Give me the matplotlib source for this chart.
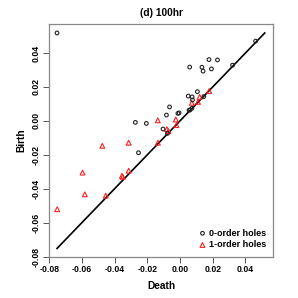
# Persistence diagram (d) 100hr - birth vs death of 0-order and 1-order holes
import numpy as np
import matplotlib
matplotlib.use('Agg')
import matplotlib.pyplot as plt

plt.rcParams['font.family'] = ['Liberation Sans', 'DejaVu Sans']

# 0-order holes (death, birth)
death0 = [-0.0752, 0.0462, 0.0321, 0.0059, 0.0177, 0.0229, 0.0134, 0.0141, 0.0192,
          0.0106, 0.0050, 0.0074, 0.0076, 0.0145, -0.0064, -0.0083, -0.0013, -0.0006,
          0.0055, 0.0061, 0.0073, -0.0273, -0.0206, -0.0104, -0.0077, -0.0254]
birth0 = [0.0518, 0.0470, 0.0328, 0.0317, 0.0361, 0.0359, 0.0316, 0.0293, 0.0306,
          0.0172, 0.0146, 0.0141, 0.0123, 0.0143, 0.0082, 0.0034, 0.0044, 0.0047,
          0.0063, 0.0064, 0.0074, -0.0009, -0.0015, -0.0048, -0.0074, -0.0188]

# 1-order holes (death, birth)
death1 = [0.0178, 0.0120, 0.0110, 0.0072, -0.0026, -0.0136, -0.0080, -0.0071, -0.0022,
          -0.0135, -0.0475, -0.0314, -0.0596, -0.0582, -0.0751, -0.0454, -0.0355,
          -0.0350, -0.0314]
birth1 = [0.0176, 0.0141, 0.0112, 0.0106, 0.0008, 0.0003, -0.0049, -0.0061, -0.0025,
          -0.0129, -0.0147, -0.0129, -0.0305, -0.0433, -0.0521, -0.0441, -0.0324,
          -0.0330, -0.0294]

ticks = [-0.08, -0.06, -0.04, -0.02, 0.00, 0.02, 0.04]
tick_labels = ['-0.08', '-0.06', '-0.04', '-0.02', '0.00', '0.02', '0.04']

fig = plt.figure(figsize=(2.98, 2.98), dpi=100)
ax = fig.add_axes([0.165, 0.139, 0.752, 0.78])

# Diagonal from the smallest to the largest value
all_vals = np.concatenate([death0, birth0, death1, birth1])
lo, hi = all_vals.min(), all_vals.max()
ax.plot([lo, hi], [lo, hi], color='black', lw=1.2, zorder=1)

ax.scatter(death0, birth0, s=7, facecolors='none', edgecolors='#222222', linewidths=0.8,
           marker='o', label='0-order holes', zorder=3)
ax.scatter(death1, birth1, s=12, facecolors='none', edgecolors='#ff2020', linewidths=0.8,
           marker='^', label='1-order holes', zorder=2)

ax.set_xlim(-0.08, 0.057)
ax.set_ylim(-0.08, 0.057)
ax.set_xticks(ticks)
ax.set_xticklabels(tick_labels, fontsize=6.2, fontweight='bold')
ax.set_yticks(ticks)
ax.set_yticklabels(tick_labels, fontsize=6.2, fontweight='bold', rotation=90, va='center')
ax.tick_params(length=4, width=0.7, color='#555555', pad=2)

for sp in ax.spines.values():
    sp.set_color('#888888')
    sp.set_linewidth(0.9)

ax.set_title('(d) 100hr', fontsize=7.3, fontweight='bold', pad=6)
ax.set_xlabel('Death', fontsize=7.3, fontweight='bold', labelpad=5)
ax.set_ylabel('Birth', fontsize=7.3, fontweight='bold', labelpad=4)

ax.legend(loc='lower right', frameon=False, fontsize=6.5, handletextpad=0.2,
          borderaxespad=0.4, labelspacing=0.3, handlelength=1.0,
          prop={'weight': 'bold', 'size': 6.5})

fig.savefig('out.png', dpi=100)
